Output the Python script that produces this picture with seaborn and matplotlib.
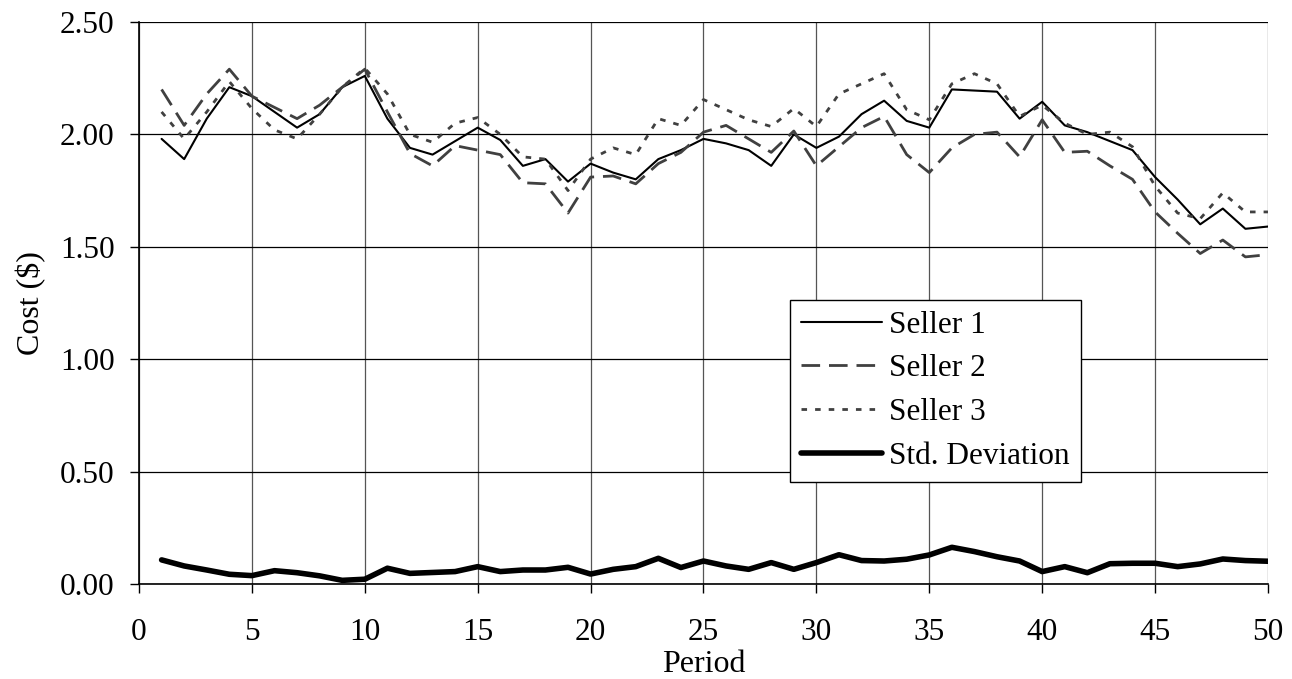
import numpy as np
import pandas as pd
import matplotlib
matplotlib.use("Agg")
import matplotlib.pyplot as plt
import seaborn as sns

periods = list(range(1, 51))

seller1 = [1.98, 1.89, 2.07, 2.21, 2.17, 2.10, 2.03, 2.09, 2.21, 2.26,
           2.07, 1.94, 1.91, 1.97, 2.03, 1.975, 1.86, 1.89, 1.79, 1.87,
           1.83, 1.80, 1.89, 1.93, 1.98, 1.96, 1.93, 1.86, 2.00, 1.94,
           1.99, 2.09, 2.15, 2.06, 2.03, 2.20, 2.195, 2.19, 2.07, 2.145,
           2.04, 2.01, 1.97, 1.93, 1.81, 1.71, 1.60, 1.67, 1.58, 1.59]

seller2 = [2.20, 2.04, 2.18, 2.29, 2.17, 2.12, 2.07, 2.13, 2.21, 2.29,
           2.10, 1.915, 1.86, 1.95, 1.93, 1.91, 1.785, 1.78, 1.65, 1.81,
           1.815, 1.78, 1.87, 1.92, 2.01, 2.04, 1.98, 1.92, 2.015, 1.86,
           1.945, 2.03, 2.08, 1.91, 1.83, 1.94, 2.00, 2.01, 1.90, 2.065,
           1.92, 1.925, 1.86, 1.80, 1.655, 1.56, 1.47, 1.53, 1.455, 1.465]

seller3 = [2.10, 1.98, 2.10, 2.235, 2.115, 2.02, 1.98, 2.09, 2.21, 2.295,
           2.18, 2.00, 1.965, 2.05, 2.075, 2.00, 1.90, 1.89, 1.75, 1.89,
           1.94, 1.91, 2.07, 2.04, 2.155, 2.11, 2.065, 2.035, 2.115, 2.035,
           2.18, 2.225, 2.27, 2.11, 2.065, 2.225, 2.27, 2.225, 2.08, 2.13,
           2.05, 2.00, 2.01, 1.945, 1.77, 1.65, 1.625, 1.74, 1.655, 1.655]

std_dev = [0.107, 0.080, 0.062, 0.043, 0.037, 0.059, 0.050, 0.036, 0.016, 0.021,
           0.070, 0.047, 0.051, 0.055, 0.077, 0.055, 0.062, 0.062, 0.074, 0.044,
           0.065, 0.077, 0.114, 0.073, 0.102, 0.080, 0.065, 0.095, 0.065, 0.095,
           0.130, 0.104, 0.102, 0.110, 0.129, 0.163, 0.144, 0.121, 0.102, 0.055,
           0.077, 0.050, 0.090, 0.092, 0.092, 0.077, 0.089, 0.111, 0.104, 0.101]

x_ticks = [0, 5, 10, 15, 20, 25, 30, 35, 40, 45, 50]
y_ticks = [0.0, 0.5, 1.0, 1.5, 2.0, 2.5]

sns.set_theme(style="white")
plt.rcParams['font.family'] = ['Liberation Serif', 'DejaVu Serif']
plt.rcParams['text.color'] = 'black'

FS = 22.5

fig = plt.figure(figsize=(12.92, 6.79), dpi=100)
ax = fig.add_axes([0.1076, 0.140, 0.8738, 0.8276])

df = pd.DataFrame({"Period": periods, "Seller 1": seller1, "Seller 2": seller2,
                   "Seller 3": seller3, "Std. Deviation": std_dev})

grey = "#404040"
sns.lineplot(data=df, x="Period", y="Seller 1", ax=ax, color="black", lw=1.5,
             label="Seller 1")
sns.lineplot(data=df, x="Period", y="Seller 2", ax=ax, color=grey, lw=2.0,
             label="Seller 2")
sns.lineplot(data=df, x="Period", y="Seller 3", ax=ax, color=grey, lw=2.0,
             label="Seller 3")
sns.lineplot(data=df, x="Period", y="Std. Deviation", ax=ax, color="black", lw=4.0,
             label="Std. Deviation")
lines = ax.get_lines()
lines[1].set_dashes([6.7, 3.2])
lines[2].set_dashes([2.0, 2.9])

ax.set_xlim(0, 50)
ax.set_ylim(0, 2.5)
ax.set_xticks(x_ticks)
ax.set_yticks(y_ticks)
ax.set_yticklabels([f"{v:.2f}" for v in y_ticks])
ax.grid(True, axis="y", color="black", lw=0.9)
ax.grid(True, axis="x", color="#555555", lw=0.9)
for s in ["top", "right"]:
    ax.spines[s].set_visible(False)
for s in ["left", "bottom"]:
    ax.spines[s].set_color("black")
    ax.spines[s].set_linewidth(1.2)
ax.tick_params(axis="both", which="major", labelsize=FS, colors="black",
               direction="out", length=6.5, width=1, bottom=True, left=True)
ax.tick_params(axis="y", pad=11)
ax.tick_params(axis="x", pad=18)
ax.set_xlabel("Period", fontsize=23, color="black", labelpad=2)
ax.set_ylabel("Cost ($)", fontsize=23, color="black", labelpad=10)

leg = ax.legend(loc="lower left", bbox_to_anchor=(0.5766, 0.182), fontsize=FS,
                frameon=True, fancybox=False, framealpha=1, edgecolor="black",
                handlelength=2.6, handletextpad=0.22, labelspacing=0.47,
                borderpad=0.35, borderaxespad=0, labelcolor="black")
leg.get_frame().set_linewidth(1.0)

fig.savefig("out.png", dpi=100)
